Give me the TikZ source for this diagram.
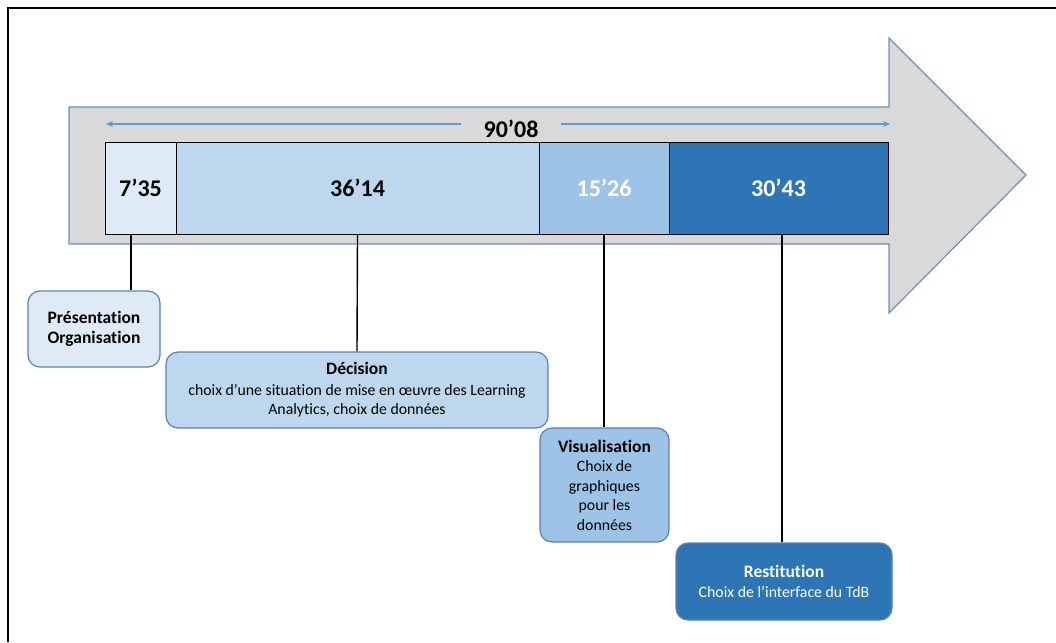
\documentclass[tikz,border=0pt]{standalone}
\usepackage{fontspec}
\setmainfont{Carlito}[Ligatures=NoCommon]
\usetikzlibrary{arrows.meta}
\definecolor{arrowgray}{HTML}{D9D9D9}
\definecolor{arrowline}{HTML}{6F8FBD}
\definecolor{cA}{HTML}{DEEBF7}
\definecolor{cB}{HTML}{BDD7EE}
\definecolor{cC}{HTML}{9DC3E6}
\definecolor{cD}{HTML}{2E75B6}
\definecolor{accent}{HTML}{5B9BD5}
\definecolor{boxline}{HTML}{5A82B2}
\begin{document}
\begin{tikzpicture}[x=1pt,y=-1pt,
  seg/.style={draw=black, line width=0.9pt, minimum height=92pt, inner sep=0pt,
    font=\fontsize{24}{28}\selectfont\bfseries},
  phase/.style={draw=boxline, line width=1.2pt, rounded corners=12pt, align=center,
    inner sep=0pt, font=\fontsize{15.8}{19.5}\selectfont},
  link/.style={draw=black, line width=1.4pt},
  span/.style={draw=accent, line width=1.6pt, -{Stealth[length=7pt,width=6pt]}}]
\useasboundingbox (0,0) rectangle (1056,642);
\fill[white] (0,0) rectangle (1056,642);
% frame
\draw[line width=2.5pt] (8,642) -- (8,8) -- (1056,8);
% big arrow
\draw[fill=arrowgray, draw=arrowline, line width=1.2pt]
  (69,107) -- (889,107) -- (889,38) -- (1026,175) -- (889,313) -- (889,244) -- (69,244) -- cycle;
% total duration
\coordinate (aL) at (106,124);
\coordinate (aR) at (890,124);
\node[font=\fontsize{24}{28}\selectfont\bfseries, inner xsep=22pt, inner ysep=0pt] (tot) at (511,129) {90’08};
\draw[span] (tot.west |- aL) -- (aL);
\draw[span] (tot.east |- aR) -- (aR);
% segments
\node[seg, fill=cA, minimum width=71pt] (b1) at (140.5,188) {7’35};
\node[seg, fill=cB, minimum width=363pt] (b2) at (357.5,188) {36’14};
\node[seg, fill=cC, minimum width=130pt, text=white] (b3) at (604,188) {15’26};
\node[seg, fill=cD, minimum width=219pt, text=white] (b4) at (778.5,188) {30’43};
% phase boxes
\node[phase, fill=cA, minimum width=132pt, minimum height=76pt] (p1) at (94,329)
  {{\fontsize{17.5}{22}\selectfont\bfseries Présentation}\\{\fontsize{17.5}{22}\selectfont\bfseries Organisation}};
\node[phase, fill=cB, minimum width=382pt, minimum height=76pt] (p2) at (357,390)
  {{\fontsize{17.5}{21}\selectfont\bfseries Décision}\\[1pt]choix d’une situation de mise en œuvre des Learning\\Analytics, choix de données};
\node[phase, fill=cC, minimum width=129pt, minimum height=114pt] (p3) at (604.5,485)
  {{\fontsize{17.5}{21}\selectfont\bfseries Visualisation}\\Choix de\\graphiques\\pour les\\données};
\node[phase, fill=cD, minimum width=216pt, minimum height=77pt, text=white] (p4) at (784,581.5)
  {{\fontsize{17.5}{21}\selectfont\bfseries Restitution}\\Choix de l’interface du TdB};
% connectors
\coordinate (k1) at (131,0);
\coordinate (k4) at (782,0);
\draw[link] (b1.south -| k1) -- (p1.north -| k1);
\draw[link] (b2.south) -- (p2.north);
\draw[link] (b3.south) -- (p3.north -| b3.south);
\draw[link] (b4.south -| k4) -- (p4.north -| k4);
\end{tikzpicture}
\end{document}
